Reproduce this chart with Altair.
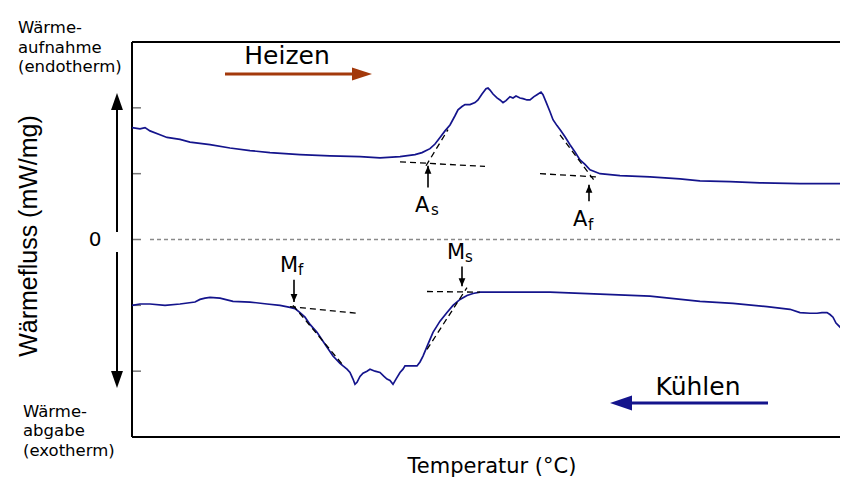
import altair as alt
import pandas as pd

# ---------------- data ----------------
# Heating run (upper curve): temperature (arbitrary units), heat flow (mW/mg)
heat_T = [0, 8, 13, 18, 28, 35, 48, 58, 78, 98, 118, 138, 168, 198, 228, 248, 268,
          283, 290, 298, 303, 308, 313, 318, 323, 326, 330, 333, 338, 343, 346, 350,
          354, 356, 358, 361, 365, 368, 371, 374, 378, 381, 384, 388, 391, 395, 398,
          402, 405, 409, 411, 414, 418, 421, 425, 428, 433, 438, 443, 448, 453, 458,
          463, 468, 488, 518, 548, 568, 598, 628, 668, 708, 716]
heat_Q = [1.70, 1.68, 1.70, 1.65, 1.59, 1.55, 1.52, 1.48, 1.44, 1.39, 1.35, 1.32, 1.29,
          1.27, 1.26, 1.24, 1.26, 1.29, 1.32, 1.38, 1.45, 1.55, 1.65, 1.74, 1.88, 1.97,
          2.02, 2.05, 2.05, 2.08, 2.12, 2.21, 2.29, 2.30, 2.27, 2.21, 2.15, 2.12, 2.08,
          2.11, 2.17, 2.15, 2.18, 2.15, 2.14, 2.12, 2.12, 2.17, 2.20, 2.24, 2.20, 2.09,
          1.94, 1.82, 1.73, 1.67, 1.56, 1.44, 1.33, 1.21, 1.14, 1.06, 1.03, 1.00, 0.97,
          0.95, 0.92, 0.89, 0.88, 0.86, 0.85, 0.85, 0.84]

# Cooling run (lower curve)
cool_T = [0, 8, 18, 33, 48, 63, 68, 73, 78, 88, 101, 118, 135, 148, 158, 163, 168, 173,
          178, 185, 193, 201, 208, 211, 215, 218, 221, 223, 225, 228, 231, 235, 238, 243,
          248, 252, 255, 258, 261, 264, 268, 271, 273, 278, 285, 288, 291, 296, 301, 308,
          315, 321, 328, 335, 341, 348, 368, 418, 468, 518, 568, 601, 635, 658, 668, 678,
          685, 690, 695, 698, 701, 704, 708, 711, 713, 716]
cool_Q = [-1.00, -0.98, -0.98, -1.00, -0.98, -0.95, -0.91, -0.89, -0.88, -0.89, -0.94,
          -0.95, -0.98, -1.00, -1.03, -1.05, -1.11, -1.18, -1.29, -1.41, -1.59, -1.77,
          -1.88, -1.92, -1.97, -2.02, -2.12, -2.20, -2.17, -2.08, -2.03, -2.00, -1.97,
          -2.00, -2.02, -2.08, -2.12, -2.14, -2.20, -2.12, -2.02, -1.97, -1.92, -1.92,
          -1.92, -1.86, -1.77, -1.59, -1.41, -1.24, -1.11, -1.00, -0.91, -0.85, -0.82,
          -0.80, -0.80, -0.80, -0.83, -0.86, -0.94, -0.97, -1.02, -1.06, -1.11, -1.12,
          -1.12, -1.11, -1.11, -1.14, -1.18, -1.27, -1.33, -1.30, -1.21, -1.02]

# Construction lines (baselines and tangents), dashed
con_id = ["As_b", "As_b", "As_t", "As_t", "Af_b", "Af_b", "Af_t", "Af_t",
          "Mf_b", "Mf_b", "Mf_t", "Mf_t", "Ms_b", "Ms_b", "Ms_t", "Ms_t"]
con_T = [268, 353, 294, 316, 408, 465, 428, 464,
         158, 225, 161, 210, 295, 348, 295, 335]
con_Q = [1.18, 1.11, 1.12, 1.67, 1.00, 0.95, 1.59, 0.86,
         -1.02, -1.12, -1.00, -1.89, -0.79, -0.80, -1.67, -0.73]

# Transformation temperatures: arrows and labels
tr_main = ["A", "A", "M", "M"]
tr_sub = ["s", "f", "f", "s"]
tr_T = [296, 457, 162, 330]
tr_tail = [0.79, 0.58, -0.61, -0.41]
tr_tip = [1.12, 0.83, -0.95, -0.71]
tr_dir = ["up", "up", "down", "down"]
lab_T = [283, 441, 148, 315]
lab_Q = [0.42, 0.20, -0.50, -0.30]
sub_T = [299, 456, 166, 333]
sub_Q = [0.37, 0.14, -0.54, -0.34]

zero_T = [18, 708]
zero_Q = [0, 0]
tick_Q = [-2, -1, 0, 1, 2]

# ---------------- chart ----------------
W, H = 708, 395
FONT = "DejaVu Sans"
xs = alt.Scale(domain=[0, 708], nice=False, zero=False)
ys = alt.Scale(domain=[-3, 3], nice=False, zero=False)
X = lambda f: alt.X(f, type="quantitative", scale=xs, axis=None)
Y = lambda f: alt.Y(f, type="quantitative", scale=ys, axis=None)

one = pd.DataFrame({"a": [0]})

heat = pd.DataFrame({"T": heat_T, "Q": heat_Q})
cool = pd.DataFrame({"T": cool_T, "Q": cool_Q})
con = pd.DataFrame({"id": con_id, "T": con_T, "Q": con_Q})
tr = pd.DataFrame({"main": tr_main, "sub": tr_sub, "T": tr_T, "tail": tr_tail,
                   "tip": tr_tip, "dir": tr_dir, "lT": lab_T, "lQ": lab_Q,
                   "sT": sub_T, "sQ": sub_Q})
zero = pd.DataFrame({"T": zero_T, "Q": zero_Q})
ticks = pd.DataFrame({"Q": tick_Q})

layers = []

# frame (left, top, bottom)
layers.append(alt.Chart(one).mark_rule(color="black", strokeWidth=2).encode(
    x=alt.value(0), y=alt.value(0), y2=alt.value(H)))
layers.append(alt.Chart(one).mark_rule(color="black", strokeWidth=2).encode(
    x=alt.value(0), x2=alt.value(W), y=alt.value(0)))
layers.append(alt.Chart(one).mark_rule(color="black", strokeWidth=2).encode(
    x=alt.value(0), x2=alt.value(W), y=alt.value(H)))

# inward ticks
layers.append(alt.Chart(ticks).mark_rule(color="#777777", strokeWidth=1.5).encode(
    y=Y("Q"), x=alt.value(1), x2=alt.value(9)))

# zero line
layers.append(alt.Chart(zero).mark_line(color="#8a8a8a", strokeWidth=1.3,
                                        strokeDash=[4, 3]).encode(x=X("T"), y=Y("Q")))

# curves
layers.append(alt.Chart(heat).mark_line(color="#14148c", strokeWidth=1.7, clip=True).encode(
    x=X("T"), y=Y("Q"), order="T:Q"))
layers.append(alt.Chart(cool).mark_line(color="#14148c", strokeWidth=1.7, clip=True).encode(
    x=X("T"), y=Y("Q"), order="T:Q"))

# construction lines
layers.append(alt.Chart(con).mark_line(color="black", strokeWidth=1.3,
                                       strokeDash=[6, 4]).encode(
    x=X("T"), y=Y("Q"), detail="id:N"))

# annotation arrows
layers.append(alt.Chart(tr).mark_rule(color="black", strokeWidth=1.6).encode(
    x=X("T"), y=Y("tail"), y2="tip:Q"))
layers.append(alt.Chart(tr).transform_filter(alt.datum.dir == "up").mark_point(
    shape="M0,0L-0.85,2L0.85,2Z", filled=True, color="black", size=64, opacity=1).encode(
    x=X("T"), y=Y("tip")))
layers.append(alt.Chart(tr).transform_filter(alt.datum.dir == "down").mark_point(
    shape="M0,0L-0.85,-2L0.85,-2Z", filled=True, color="black", size=64, opacity=1).encode(
    x=X("T"), y=Y("tip")))
layers.append(alt.Chart(tr).mark_text(font=FONT, fontSize=21, align="left",
                                      baseline="alphabetic", color="black").encode(
    x=X("lT"), y=Y("lQ"), text="main:N"))
layers.append(alt.Chart(tr).mark_text(font=FONT, fontSize=15, align="left",
                                      baseline="alphabetic", color="black").encode(
    x=X("sT"), y=Y("sQ"), text="sub:N"))


def txt(s, x, y, size, align="left", baseline="alphabetic", angle=0, font=FONT):
    kw = dict(font=font, fontSize=size, align=align, baseline=baseline, color="black")
    if angle:
        kw["angle"] = angle
    return alt.Chart(one).mark_text(**kw).encode(
        x=alt.value(x), y=alt.value(y), text=alt.value(s))


# y-direction arrow at the left
layers.append(alt.Chart(one).mark_rule(color="black", strokeWidth=2).encode(
    x=alt.value(-15), y=alt.value(62), y2=alt.value(190)))
layers.append(alt.Chart(one).mark_rule(color="black", strokeWidth=2).encode(
    x=alt.value(-15), y=alt.value(210), y2=alt.value(340)))
layers.append(alt.Chart(one).mark_point(shape="M0,0L-0.7,2L0.7,2Z", filled=True,
                                        color="black", size=289, opacity=1).encode(
    x=alt.value(-15), y=alt.value(51)))
layers.append(alt.Chart(one).mark_point(shape="M0,0L-0.7,-2L0.7,-2Z", filled=True,
                                        color="black", size=289, opacity=1).encode(
    x=alt.value(-15), y=alt.value(346)))

# Heizen arrow
layers.append(alt.Chart(one).mark_rule(color="#a3390b", strokeWidth=3).encode(
    x=alt.value(93), x2=alt.value(224), y=alt.value(32)))
layers.append(alt.Chart(one).mark_point(shape="M0,0L-2,-0.65L-2,0.65Z", filled=True,
                                        color="#a3390b", size=400, opacity=1).encode(
    x=alt.value(240), y=alt.value(32)))
# Kühlen arrow
layers.append(alt.Chart(one).mark_rule(color="#14148c", strokeWidth=3).encode(
    x=alt.value(494), x2=alt.value(636), y=alt.value(361)))
layers.append(alt.Chart(one).mark_point(shape="M0,0L2,-0.68L2,0.68Z", filled=True,
                                        color="#14148c", size=484, opacity=1).encode(
    x=alt.value(478), y=alt.value(361)))

# texts
layers += [
    txt("Heizen", 155, 22, 25, align="center"),
    txt("Kühlen", 566, 353, 25, align="center"),
    txt("Temperatur (°C)", 360, 431, 21, align="center"),
    txt("0", -37, 198, 20, align="center", baseline="middle"),
    txt("Wärmefluss (mW/mg)", -95, 194, 25, align="center", angle=270,
        font="Liberation Sans"),
    txt("Wärme-", -114, -9, 16.5),
    txt("aufnahme", -114, 11, 16.5),
    txt("(endotherm)", -114, 30, 16.5),
    txt("Wärme-", -109, 375, 16.5),
    txt("abgabe", -109, 394, 16.5),
    txt("(exotherm)", -109, 414, 16.5),
]

chart = alt.layer(*layers).properties(
    width=W, height=H,
    autosize=alt.AutoSizeParams(type="none"),
    padding={"left": 124, "top": 34, "right": 0, "bottom": 41},
).configure_view(stroke=None).configure(background="white")

chart.save("out.html", embed_options={"renderer": "svg", "actions": False})
